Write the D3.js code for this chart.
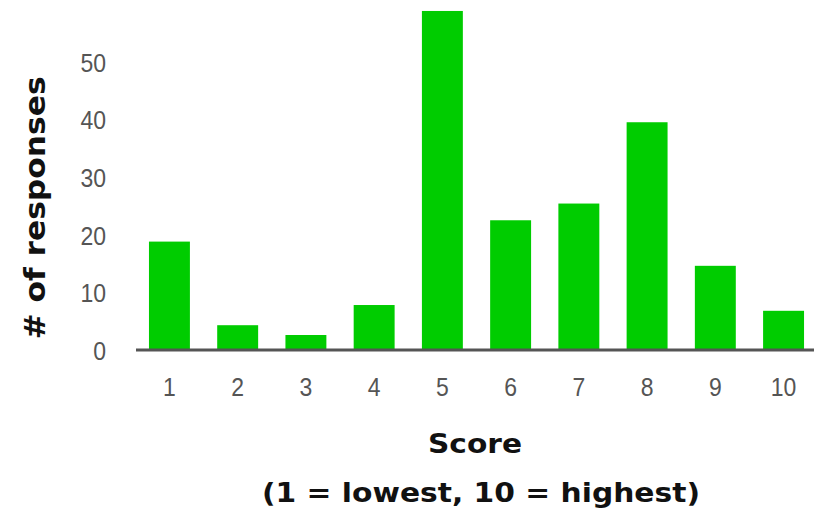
<!DOCTYPE html>
<html>
<head>
<meta charset="utf-8">
<script src="https://cdn.jsdelivr.net/npm/d3@7"></script>
<style>
  html, body { margin: 0; padding: 0; background: #fff; }
  svg { display: block; }
</style>
</head>
<body>
<svg id="chart" width="814" height="509"></svg>
<script>
const categories = ["1", "2", "3", "4", "5", "6", "7", "8", "9", "10"];
const responses = [18.8, 4.3, 2.6, 7.8, 58.8, 22.5, 25.4, 39.5, 14.6, 6.8];
const yTicks = [0, 10, 20, 30, 40, 50];
const yTitle = "# of responses";
const xTitle1 = "Score";
const xTitle2 = "(1 = lowest, 10 = highest)";

const svg = d3.select("#chart");

const x = d3.scaleBand()
  .domain(categories)
  .range([136, 817])
  .paddingInner(0.4)
  .paddingOuter(0.19);

const y = d3.scaleLinear()
  .domain([0, 60])
  .range([350, 350 - 60 * 5.766]);

// bars
svg.append("g")
  .selectAll("rect")
  .data(categories.map((c, i) => ({ c, v: responses[i] })))
  .join("rect")
  .attr("x", d => x(d.c))
  .attr("y", d => y(d.v))
  .attr("width", x.bandwidth())
  .attr("height", d => y(0) - y(d.v))
  .attr("fill", "#00cc00");

// y axis (labels only)
const yAxis = svg.append("g")
  .attr("transform", "translate(106,0)")
  .call(d3.axisLeft(y).tickValues(yTicks).tickSize(0).tickPadding(0));
yAxis.select(".domain").remove();
yAxis.selectAll("text")
  .attr("fill", "#555")
  .attr("font-family", "'Liberation Sans', Arial, sans-serif")
  .attr("font-size", 23)
  .attr("dy", "0.36em")
  .attr("transform", "scale(1,1.15)");

// x axis
const xAxis = svg.append("g")
  .attr("transform", "translate(0,350)")
  .call(d3.axisBottom(x).tickSize(0).tickPadding(0));
xAxis.select(".domain").remove();
xAxis.selectAll("text")
  .attr("fill", "#555")
  .attr("font-family", "'Liberation Sans', Arial, sans-serif")
  .attr("font-size", 23)
  .attr("dy", "0")
  .attr("y", 40)
  .attr("transform", "scale(1,1.15)");

// baseline
svg.append("line")
  .attr("x1", 136).attr("x2", 814)
  .attr("y1", y(0)).attr("y2", y(0))
  .attr("stroke", "#555")
  .attr("stroke-width", 3);

// axis titles
svg.append("text")
  .attr("transform", "translate(45,208) rotate(-90)")
  .attr("text-anchor", "middle")
  .attr("font-family", "'DejaVu Sans', Verdana, sans-serif")
  .attr("font-weight", "bold")
  .attr("font-size", 28)
  .attr("fill", "#111")
  .attr("textLength", 263)
  .attr("lengthAdjust", "spacingAndGlyphs")
  .text(yTitle);

svg.append("text")
  .attr("x", 475).attr("y", 453)
  .attr("text-anchor", "middle")
  .attr("font-family", "'DejaVu Sans', Verdana, sans-serif")
  .attr("font-weight", "bold")
  .attr("font-size", 27)
  .attr("fill", "#111")
  .attr("textLength", 94)
  .attr("lengthAdjust", "spacingAndGlyphs")
  .text(xTitle1);

svg.append("text")
  .attr("x", 481).attr("y", 502)
  .attr("text-anchor", "middle")
  .attr("font-family", "'DejaVu Sans', Verdana, sans-serif")
  .attr("font-weight", "bold")
  .attr("font-size", 27)
  .attr("fill", "#111")
  .attr("textLength", 438)
  .attr("lengthAdjust", "spacingAndGlyphs")
  .text(xTitle2);
</script>
</body>
</html>
